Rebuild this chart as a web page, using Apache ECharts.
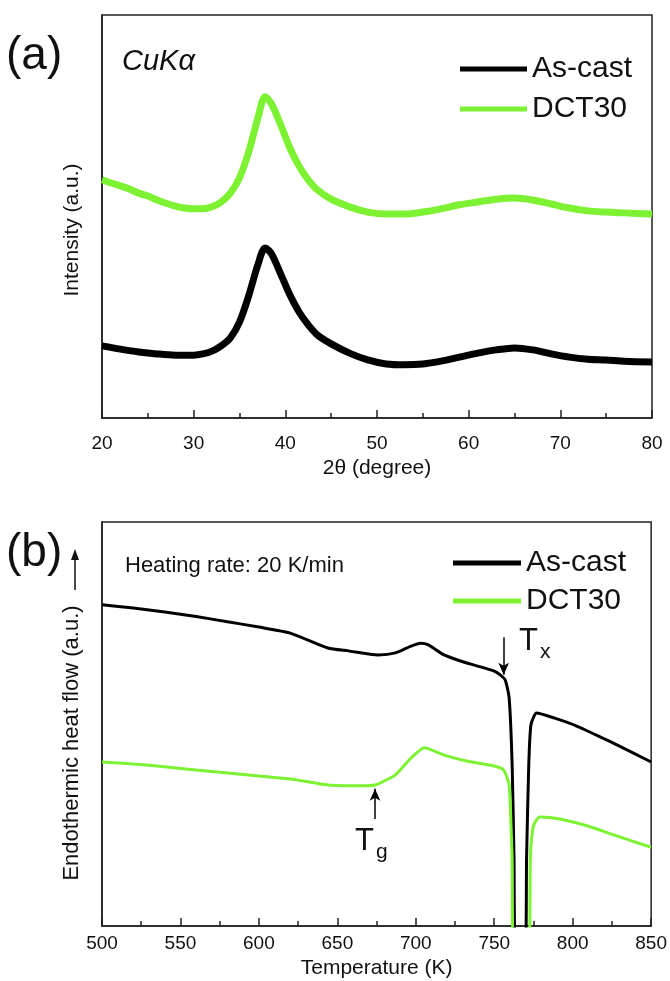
<!DOCTYPE html>
<html>
<head>
<meta charset="utf-8">
<script src="https://cdn.jsdelivr.net/npm/echarts@6/dist/echarts.min.js"></script>
<style>
html,body{margin:0;padding:0;background:#fff;}
#c{width:670px;height:981px;}
</style>
</head>
<body>
<div id="c"></div>
<script>
// ---- Panel (a): XRD ----
const xrdAngle = [20,21,22,23,24,25,26,27,28,29,30,31,32,33,34,35,36,37,37.8,38.5,39.5,40.5,41.5,42.5,43.5,45,47,49,51,53,55,57,59,61,63,65,67,69,71,73,75,77,80];
const xrdDCT30 = [59.1,58.3,57.6,56.8,55.8,55.1,54.1,53.3,52.6,52.1,51.9,51.9,52.4,53.6,55.8,59.6,66.0,74.4,79.7,77.9,72.7,67.0,62.5,59.1,56.6,54.3,52.4,51.1,50.6,50.6,51.1,51.9,52.9,53.6,54.3,54.6,54.1,53.1,52.1,51.4,51.1,50.9,50.6];
const xrdAngleB = [20,22,24,26,28,30,31,32,33,34,35,36,37,37.8,38.5,39.5,40.5,41.5,42.5,43.5,45,47,49,51,53,55,57,59,61,63,65,67,69,71,73,75,77,80];
const xrdAsCast = [17.9,17.1,16.4,15.9,15.6,15.6,15.9,16.6,17.9,19.9,23.8,30.3,38.0,42.2,40.7,35.7,30.5,26.3,23.1,20.6,18.4,16.1,14.4,13.4,13.2,13.4,14.1,15.1,16.1,16.9,17.4,16.9,15.9,15.1,14.6,14.4,14.1,13.9];
const xrdTicks = [20,30,40,50,60,70,80];

// ---- Panel (b): DSC ----
const dscTempA = [500,520,540,560,580,600,620,644,657,676,687,697,703,708,718,728.5,739,750,754,757,759.5,761.4,762.6,763.5,769.8,770.6,772,773.4,777,788,802.5,823,850];
const dscAsCast = [79.5,78.7,77.7,76.6,75.3,74.0,72.5,68.8,68.1,67.1,67.6,69.3,70.0,69.6,67.1,65.6,64.4,63.1,62.1,60.9,56.4,39.9,16.8,-5,-5,16.8,39.9,49.8,52.7,51.5,49.5,45.8,40.6];
const dscTempB = [500,520,540,560,580,600,620,644,665,674,687,697,705.5,718,733,750,756,759.5,760.8,761.4,762.2,772.2,773,775,779,792,809,828,850];
const dscDCT30 = [40.6,40.1,39.4,38.6,37.9,37.1,36.4,34.9,34.7,34.9,37.4,41.6,44.1,42.3,40.8,39.6,38.6,34.9,23.5,16.8,-5,-5,16.8,24.8,27.0,26.5,24.8,22.3,19.5];
const dscTicks = [500,550,600,650,700,750,800,850];

const FONT = 'Liberation Sans, Arial, sans-serif';
const chart = echarts.init(document.getElementById('c'), null, {renderer:'canvas'});

function xAxisCfg(gi, min, max, interval, name, nameGap, labelMargin){
  return {
    gridIndex: gi, type:'value', min:min, max:max, interval:interval,
    name:name, nameLocation:'middle', nameGap:nameGap,
    nameTextStyle:{fontFamily:FONT, fontSize:21, color:'#111'},
    axisLine:{show:true, onZero:false, lineStyle:{color:'#222', width:1.5}},
    axisTick:{show:true, inside:true, length:8, lineStyle:{color:'#222', width:1.5}},
    minorTick:{show:true, splitNumber:2, length:5, lineStyle:{color:'#222', width:1.5}},
    axisLabel:{fontFamily:FONT, fontSize:19, color:'#111', margin:labelMargin},
    splitLine:{show:false}
  };
}
function yAxisCfg(gi){
  return {
    gridIndex: gi, type:'value', min:0, max:100,
    axisLine:{show:true, lineStyle:{color:'#222', width:1.5}},
    axisTick:{show:false}, axisLabel:{show:false}, splitLine:{show:false}
  };
}
const legendStyle = {fontFamily:FONT, fontSize:30, color:'#111'};

const option = {
  animation:false,
  backgroundColor:'#fff',
  grid:[
    {left:102, right:18, top:15, height:403, show:true, borderColor:'#222', borderWidth:1.5, backgroundColor:'transparent'},
    {left:102, right:15, top:522, height:404, show:true, borderColor:'#222', borderWidth:1.5, backgroundColor:'transparent'}
  ],
  xAxis:[
    xAxisCfg(0, 20, 80, 10, '2θ (degree)', 40, 16),
    xAxisCfg(1, 500, 850, 50, 'Temperature (K)', 32, 8)
  ],
  yAxis:[ yAxisCfg(0), yAxisCfg(1) ],
  legend:[
    {left:455, top:49, orient:'vertical', itemWidth:67, itemHeight:5, itemGap:10,
     icon:'rect', textStyle:legendStyle, data:['As-cast','DCT30']},
    {left:448, top:543, orient:'vertical', itemWidth:68, itemHeight:5, itemGap:8,
     icon:'rect', textStyle:legendStyle, data:['As-cast','DCT30']}
  ],
  series:[
    {name:'As-cast', type:'line', xAxisIndex:0, yAxisIndex:0, symbol:'none', smooth:0.3,
     data: xrdAngleB.map((x,i)=>[x, xrdAsCast[i]]), lineStyle:{color:'#000', width:7}, itemStyle:{color:'#000'}},
    {name:'DCT30', type:'line', xAxisIndex:0, yAxisIndex:0, symbol:'none', smooth:0.3,
     data: xrdAngle.map((x,i)=>[x, xrdDCT30[i]]), lineStyle:{color:'#7CF232', width:7}, itemStyle:{color:'#7CF232'}},
    {name:'As-cast', type:'line', xAxisIndex:1, yAxisIndex:1, symbol:'none', smooth:0.2, clip:true,
     data: dscTempA.map((x,i)=>[x, dscAsCast[i]]), lineStyle:{color:'#000', width:3}, itemStyle:{color:'#000'},
     markLine:{silent:true, symbol:['none','arrow'], symbolSize:[8,12],
       lineStyle:{color:'#000', width:1.5, type:'solid'}, label:{show:false},
       data:[[{coord:[756, 71.5]},{coord:[756, 62.2]}]]}},
    {name:'DCT30', type:'line', xAxisIndex:1, yAxisIndex:1, symbol:'none', smooth:0.2, clip:true,
     data: dscTempB.map((x,i)=>[x, dscDCT30[i]]), lineStyle:{color:'#7CF232', width:3}, itemStyle:{color:'#7CF232'},
     markLine:{silent:true, symbol:['none','arrow'], symbolSize:[8,12],
       lineStyle:{color:'#000', width:1.5, type:'solid'}, label:{show:false},
       data:[[{coord:[674, 26.5]},{coord:[674, 34.0]}]]}}
  ],
  graphic:[
    {type:'text', left:6, top:33, style:{text:'(a)', fontFamily:FONT, fontSize:46, fill:'#111'}},
    {type:'text', left:6, top:530, style:{text:'(b)', fontFamily:FONT, fontSize:46, fill:'#111'}},
    {type:'text', left:122, top:47, style:{text:'CuKα', fontFamily:FONT, fontSize:29, fontStyle:'italic', fill:'#111'}},
    {type:'text', left:125, top:555, style:{text:'Heating rate: 20 K/min', fontFamily:FONT, fontSize:22, fill:'#111'}},
    {type:'text', x:72, y:230, rotation:Math.PI/2, style:{text:'Intensity (a.u.)', fontFamily:FONT, fontSize:21, fill:'#111', align:'center', verticalAlign:'middle'}},
    {type:'text', x:72, y:743, rotation:Math.PI/2, style:{text:'Endothermic heat flow (a.u.)', fontFamily:FONT, fontSize:22, fill:'#111', align:'center', verticalAlign:'middle'}},
    {type:'text', left:519, top:626, style:{text:'T{s|x}', fontFamily:FONT, fontSize:31, fill:'#111',
       rich:{s:{fontFamily:FONT, fontSize:21, padding:[22,0,0,2], fill:'#111'}}}},
    {type:'text', left:355, top:826, style:{text:'T{s|g}', fontFamily:FONT, fontSize:31, fill:'#111',
       rich:{s:{fontFamily:FONT, fontSize:21, padding:[22,0,0,2], fill:'#111'}}}},
    {type:'line', shape:{x1:75, y1:590, x2:75, y2:556}, style:{stroke:'#111', lineWidth:1.5}},
    {type:'polygon', shape:{points:[[71,560],[79,560],[75,549]]}, style:{fill:'#111'}}
  ]
};
chart.setOption(option);
</script>
</body>
</html>
